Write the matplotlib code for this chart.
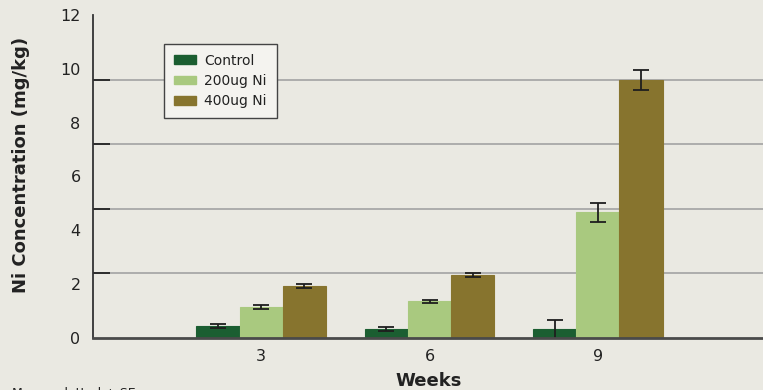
import numpy as np
import matplotlib.pyplot as plt
from matplotlib.patches import Patch

# Ni concentration by week and treatment (mg/kg), mean and error
weeks = [3, 6, 9]
series = ['Control', '200ug Ni', '400ug Ni']
control = [0.45, 0.33, 0.33]
ni_200 = [1.16, 1.36, 4.67]
ni_400 = [1.93, 2.34, 9.59]
control_err = [0.07, 0.07, 0.35]
ni_200_err = [0.08, 0.06, 0.36]
ni_400_err = [0.07, 0.08, 0.36]
ytick_labels = ['0', '2', '4', '6', '8', '10', '12']

colors = ['#1b5e31', '#a9c97f', '#87742e']
bg = '#eae9e2'
ink = '#222222'

plt.rcParams['font.family'] = ['DejaVu Sans']

fig = plt.figure(figsize=(7.63, 3.90), dpi=100, facecolor=bg)
ax = fig.add_axes([93 / 763, 1 - 338 / 390, (766 - 93) / 763, (338 - 15) / 390])
ax.set_facecolor(bg)

width = 0.77
x = np.array(weeks, dtype=float)
values = [control, ni_200, ni_400]
errors = [control_err, ni_200_err, ni_400_err]
for i, (vals, errs) in enumerate(zip(values, errors)):
    ax.bar(x + (i - 1) * width, vals, width=width, color=colors[i],
           edgecolor=colors[i], linewidth=0.8, zorder=3)
    ax.errorbar(x + (i - 1) * width, vals, yerr=errs, fmt='none',
                ecolor='#1e1e1e', elinewidth=1.3, capsize=6, capthick=1.3, zorder=4)

ax.set_xlim(0, 12)
ax.set_ylim(0, 12)

# labelled ticks every 2, gridlines split the range into fifths
ax.set_yticks(np.arange(0, 13, 2))
ax.set_yticklabels(ytick_labels)
ax.set_yticks(np.arange(0, 12.01, 2.4), minor=True)
ax.tick_params(axis='y', which='major', length=0, pad=9, labelsize=11.5, colors=ink)
ax.tick_params(axis='y', which='minor', direction='in', length=12, width=1.3, color=ink)
ax.grid(True, axis='y', which='minor', color='#a3a3a3', linewidth=1.2, zorder=0)

ax.set_xticks(weeks)
ax.set_xticklabels([str(w) for w in weeks])
ax.tick_params(axis='x', length=0, pad=8, labelsize=11.5, colors=ink)

for side in ['top', 'right']:
    ax.spines[side].set_visible(False)
ax.spines['left'].set_color('#333333')
ax.spines['left'].set_linewidth(1.3)
ax.spines['bottom'].set_color('#4a4a4a')
ax.spines['bottom'].set_linewidth(2)
ax.spines['bottom'].set_zorder(5)

fig.text(21 / 763, 1 - 165 / 390, 'Ni Concentration (mg/kg)', rotation=90,
         ha='center', va='center', fontsize=13, fontweight='bold', color=ink)
fig.text(429 / 763, 1 - 381 / 390, 'Weeks', ha='center', va='center',
         fontsize=13, fontweight='bold', color=ink)
fig.text(12 / 763, 1 - 393 / 390, 'Means plotted ± SE', ha='left', va='center',
         fontsize=9, color=ink)

handles = [Patch(facecolor=c, edgecolor=c, label=s) for c, s in zip(colors, series)]
leg = ax.legend(handles=handles, loc='upper left',
                bbox_to_anchor=((164 - 93) / 673, (338 - 44) / 323),
                frameon=True, fancybox=False, fontsize=10, handlelength=1.6, handleheight=0.6,
                borderpad=0.7, labelspacing=0.45, handletextpad=0.6, borderaxespad=0)
leg.get_frame().set_facecolor('#f4f3ef')
leg.get_frame().set_edgecolor('#444444')
leg.get_frame().set_linewidth(1.0)
leg.get_frame().set_alpha(1)
for t in leg.get_texts():
    t.set_color(ink)
leg.set_zorder(6)

fig.savefig('out.png', dpi=100, facecolor=bg)
